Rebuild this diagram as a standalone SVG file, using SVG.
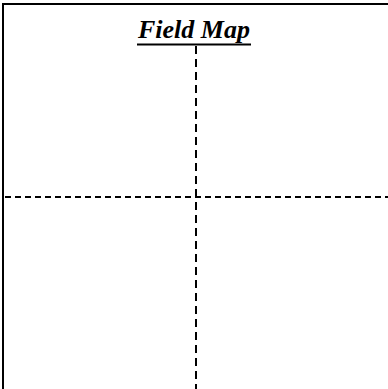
<svg xmlns="http://www.w3.org/2000/svg" width="388" height="389" viewBox="0 0 388 389">
<style>
.border{stroke:#000;stroke-width:2;fill:none}
.dash{stroke:#000;stroke-width:2;fill:none}
.title{font-family:"Liberation Serif","Times New Roman",serif;font-weight:bold;font-style:italic;font-size:26px;fill:#000}
</style>
<rect width="388" height="389" fill="#fff"/>
<g id="frame">
<path class="border" d="M3,389 V4 H388"/>
</g>
<g id="title">
<text class="title" x="194" y="38" text-anchor="middle">Field Map</text>
<line x1="137" y1="44.5" x2="251" y2="44.5" stroke="#000" stroke-width="2"/>
</g>
<g id="connectors">
<line class="dash" x1="196" y1="46" x2="196" y2="389" stroke-dasharray="8,5"/>
<line class="dash" x1="5" y1="197" x2="388" y2="197" stroke-dasharray="6,4"/>
</g>
</svg>
